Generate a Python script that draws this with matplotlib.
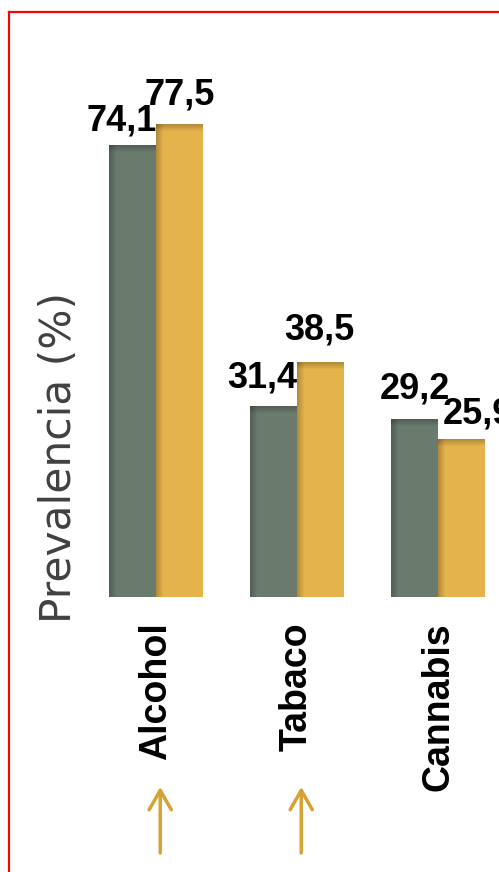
import matplotlib
matplotlib.use("Agg")
import matplotlib.pyplot as plt
from matplotlib.lines import Line2D
from matplotlib.patches import Rectangle

# ---- data ----
categories = ["Alcohol", "Tabaco", "Cannabis"]
series_a = [74.1, 31.4, 29.2]   # gray
series_b = [77.5, 38.5, 25.9]   # yellow
labels_a = ["74,1", "31,4", "29,2"]
labels_b = ["77,5", "38,5", "25,9"]
arrow_flags = [True, True, False]
ylabel = "Prevalencia (%)"

# ---- style ----
GRAY = "#6A7A6D"
YELLOW = "#E5B34C"
ARROW = "#D6A232"
W = 0.333
lab_dx_a = [-11, -11, 0]
lab_dy_a = [15, 18, 20]
lab_dx_b = [0, -1, 16]
lab_dy_b = [20, 23, 16]

fig = plt.figure(figsize=(4.99, 8.72), dpi=100)
ax = fig.add_axes([0, 275 / 872, 1, 597 / 872])
ax.set_xlim(-1.1064, 2.4326)
ax.set_ylim(0, 97.9)
for s in ax.spines.values():
    s.set_visible(False)
ax.set_yticks([])

x = list(range(len(categories)))
xa = [i - W for i in x]
bars_a = ax.bar(xa, series_a, width=W, align="edge", color=GRAY, zorder=2)
bars_b = ax.bar(x, series_b, width=W, align="edge", color=YELLOW, zorder=2)

# inner shadow emulation (left edge and top edge)
px_x = (2.4326 + 1.1064) / 499.0
px_y = 97.9 / 597.0
for bars in (bars_a, bars_b):
    for b in bars:
        bx, bw, bh = b.get_x(), b.get_width(), b.get_height()
        n = 7
        for k in range(n):
            a = 0.22 * (1 - k / n)
            ax.add_patch(Rectangle((bx + k * px_x, 0), px_x, bh,
                                   facecolor="black", alpha=a, lw=0, zorder=3))
            ax.add_patch(Rectangle((bx, bh - (k + 1) * px_y), bw, px_y,
                                   facecolor="black", alpha=a, lw=0, zorder=3))

lab_font = dict(family=["Liberation Sans", "DejaVu Sans"], weight="bold", size=26)
for i, b in enumerate(bars_a):
    ax.annotate(labels_a[i], (b.get_x() + b.get_width() / 2, b.get_height()),
                xytext=(lab_dx_a[i], lab_dy_a[i]), textcoords="offset pixels",
                ha="center", va="baseline", color="black", zorder=5, **lab_font)
for i, b in enumerate(bars_b):
    ax.annotate(labels_b[i], (b.get_x() + b.get_width() / 2, b.get_height()),
                xytext=(lab_dx_b[i], lab_dy_b[i]), textcoords="offset pixels",
                ha="center", va="baseline", color="black", zorder=5, **lab_font)

ax.set_xticks(x)
ax.set_xticklabels(categories, rotation=90, ha="center", va="top",
                   family=["Liberation Sans", "DejaVu Sans"], weight="bold", size=27)
ax.tick_params(axis="x", length=0, pad=18)

# arrows under flagged categories
tr = ax.get_xaxis_transform()
for i, f in enumerate(arrow_flags):
    if f:
        ax.annotate("", xy=(i + 0.03, -0.318), xytext=(i + 0.03, -0.4288),
                    xycoords=tr, textcoords=tr,
                    arrowprops=dict(arrowstyle="->,head_length=0.7,head_width=0.4",
                                    color=ARROW, lw=2.5, mutation_scale=20,
                                    shrinkA=0, shrinkB=0),
                    annotation_clip=False)

fig.text(59 / 499, 1 - 457 / 872, ylabel, rotation=90, ha="center", va="center",
         family=["DejaVu Sans"], weight="normal", size=30.5, color="#404040")

# red frame
fig.add_artist(Line2D([9 / 499, 9 / 499], [0, 1 - 12 / 872], transform=fig.transFigure,
                      color="red", lw=1.6))
fig.add_artist(Line2D([9 / 499, 1], [1 - 12 / 872, 1 - 12 / 872], transform=fig.transFigure,
                      color="red", lw=1.6))

fig.savefig("out.png", dpi=100)
